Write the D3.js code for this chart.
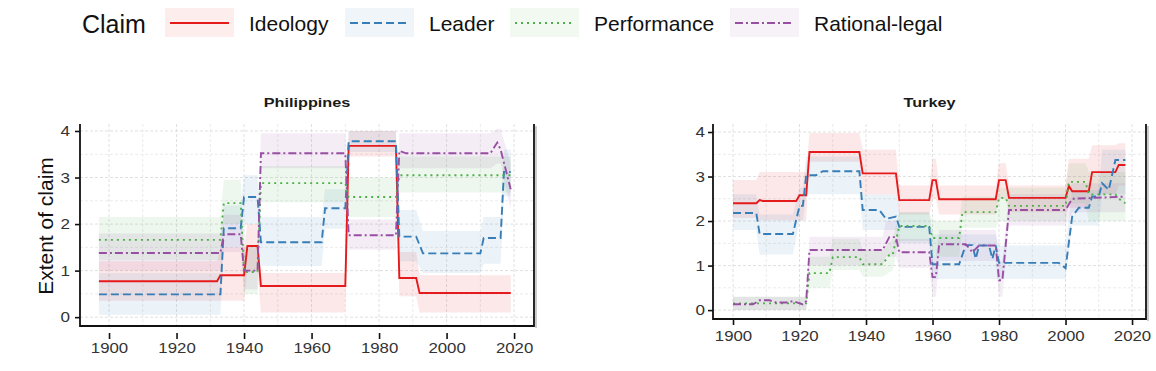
<!DOCTYPE html>
<html>
<head>
<meta charset="utf-8">
<script src="https://cdn.jsdelivr.net/npm/d3@7"></script>
<style>
body { margin: 0; background: #fff; }
text { font-family: "Liberation Sans", Arial, sans-serif; }
</style>
</head>
<body>
<div id="chart"></div>
<script>
// claims + styles
var claims = ["Ideology", "Leader", "Performance", "Rational-legal"];
var colors = ["#e41a1c", "#377eb8", "#4daf4a", "#984ea3"];
var dashes = [null, "8,4", "2,4", "8,3,2,3"];

var xTicks = [1900, 1920, 1940, 1960, 1980, 2000, 2020];
var yTicks = [0, 1, 2, 3, 4];

// Philippines: [year, value] and bands [year, lo, hi]
var phIdeology = [[1897,0.77],[1932,0.77],[1933,0.9],[1940,0.9],[1941,1.53],[1944,1.53],[1945,0.67],[1970,0.67],[1971,3.68],[1985,3.68],[1986,0.84],[1991,0.84],[1992,0.52],[2019,0.52]];
var phLeader = [[1897,0.49],[1933,0.49],[1934,1.91],[1939,1.91],[1940,2.58],[1944,2.58],[1945,1.61],[1963,1.61],[1964,2.34],[1970,2.34],[1971,3.78],[1985,3.78],[1986,1.73],[1991,1.73],[1993,1.37],[2010,1.37],[2011,1.7],[2016,1.7],[2017,3.12],[2019,3.12]];
var phPerformance = [[1897,1.66],[1933,1.66],[1934,2.45],[1939,2.45],[1940,0.97],[1944,0.97],[1945,2.88],[1970,2.88],[1971,2.58],[1985,2.58],[1986,3.05],[2019,3.05]];
var phRational = [[1897,1.38],[1933,1.38],[1934,1.78],[1939,1.78],[1940,1.0],[1944,1.0],[1945,3.52],[1970,3.52],[1971,1.76],[1985,1.76],[1986,3.57],[1988,3.52],[2013,3.52],[2015,3.75],[2016,3.6],[2019,2.75]];

var phIdeologyBand = [[1897,0.35,1.2],[1932,0.35,1.2],[1933,0.35,1.5],[1940,0.35,1.5],[1941,1.0,2.0],[1944,1.0,2.0],[1945,0.1,0.95],[1970,0.1,0.95],[1971,3.45,4.0],[1985,3.45,4.0],[1986,0.45,1.4],[1991,0.45,1.4],[1992,0.1,0.9],[2019,0.1,0.9]];
var phLeaderBand = [[1897,0.05,0.95],[1933,0.05,0.95],[1934,1.5,2.4],[1939,1.5,2.4],[1940,2.0,3.05],[1944,2.0,3.05],[1945,1.1,2.15],[1963,1.1,2.15],[1964,1.9,2.75],[1970,1.9,2.75],[1971,3.55,4.0],[1985,3.55,4.0],[1986,1.2,2.3],[1991,1.2,2.3],[1993,0.95,1.85],[2010,0.95,1.85],[2011,1.15,2.15],[2016,1.15,2.15],[2017,2.6,3.6],[2019,2.6,3.6]];
var phPerformanceBand = [[1897,1.22,2.15],[1933,1.22,2.15],[1934,2.0,2.95],[1939,2.0,2.95],[1940,0.5,1.5],[1944,0.5,1.5],[1945,2.47,3.25],[1970,2.47,3.25],[1971,2.15,3.0],[1985,2.15,3.0],[1986,2.68,3.45],[2019,2.68,3.45]];
var phRationalBand = [[1897,1.0,1.8],[1933,1.0,1.8],[1934,1.4,2.2],[1939,1.4,2.2],[1940,0.6,1.5],[1944,0.6,1.5],[1945,3.2,3.95],[1970,3.2,3.95],[1971,1.45,2.1],[1985,1.45,2.1],[1986,3.2,3.95],[2013,3.2,3.95],[2015,3.3,4.05],[2016,3.3,4.05],[2019,2.3,3.3]];

// Turkey
var trIdeology = [[1900,2.40],[1907,2.40],[1908,2.47],[1909,2.45],[1919,2.45],[1920,2.58],[1922,2.58],[1923,3.55],[1938,3.55],[1939,3.07],[1949,3.07],[1950,2.47],[1959,2.47],[1960,2.92],[1961,2.92],[1962,2.49],[1979,2.49],[1980,2.92],[1982,2.92],[1983,2.52],[2000,2.52],[2001,2.79],[2002,2.67],[2007,2.67],[2008,3.1],[2015,3.1],[2016,3.26],[2018,3.26]];
var trLeader = [[1900,2.18],[1907,2.18],[1908,1.71],[1918,1.71],[1920,2.34],[1921,2.34],[1922,3.03],[1925,3.03],[1927,3.12],[1938,3.12],[1939,2.25],[1944,2.25],[1946,2.05],[1949,2.1],[1950,1.87],[1959,1.87],[1960,1.03],[1968,1.03],[1970,1.46],[1972,1.46],[1973,1.15],[1974,1.45],[1977,1.45],[1978,1.15],[1979,1.45],[1980,1.06],[1998,1.06],[2000,0.94],[2002,2.1],[2004,2.3],[2007,2.3],[2008,2.55],[2010,2.55],[2011,2.85],[2013,2.7],[2015,3.37],[2018,3.37]];
var trPerformance = [[1900,0.15],[1922,0.15],[1923,0.83],[1929,0.83],[1930,1.19],[1938,1.19],[1939,1.03],[1945,1.03],[1947,1.24],[1948,1.24],[1950,1.89],[1959,1.89],[1960,1.62],[1968,1.62],[1969,2.2],[1979,2.2],[1980,2.52],[1982,2.52],[1983,2.34],[2000,2.34],[2001,2.88],[2006,2.88],[2007,2.6],[2015,2.6],[2016,2.5],[2018,2.4]];
var trRational = [[1900,0.13],[1906,0.13],[1908,0.22],[1911,0.22],[1913,0.17],[1916,0.17],[1918,0.2],[1921,0.13],[1922,0.2],[1923,1.35],[1945,1.35],[1947,1.64],[1949,1.64],[1950,1.3],[1959,1.3],[1960,0.74],[1961,0.74],[1962,1.48],[1970,1.48],[1972,1.3],[1974,1.45],[1979,1.45],[1980,0.67],[1981,0.67],[1983,2.25],[2000,2.25],[2002,2.5],[2018,2.55]];

var trIdeologyBand = [[1900,2.07,2.92],[1907,2.07,2.92],[1908,2.02,3.1],[1922,2.02,3.1],[1923,3.33,3.98],[1938,3.33,3.98],[1939,2.6,3.6],[1949,2.6,3.6],[1950,2.15,2.8],[1959,2.15,2.8],[1960,2.5,3.4],[1961,2.5,3.4],[1962,2.15,2.8],[1979,2.15,2.8],[1980,2.5,3.3],[1982,2.5,3.3],[1983,2.2,2.8],[2000,2.2,2.8],[2001,2.3,3.4],[2007,2.3,3.4],[2008,2.6,3.7],[2015,2.6,3.7],[2016,2.8,3.75],[2018,2.8,3.75]];
var trLeaderBand = [[1900,1.8,2.6],[1907,1.8,2.6],[1908,1.25,2.15],[1918,1.25,2.15],[1920,2.0,2.75],[1921,2.0,2.75],[1922,2.6,3.45],[1938,2.6,3.45],[1939,1.8,2.6],[1949,1.8,2.6],[1950,1.5,2.2],[1959,1.5,2.2],[1960,0.7,1.7],[1979,0.7,1.7],[1980,0.7,1.45],[2000,0.7,1.45],[2002,1.9,2.7],[2010,1.9,2.7],[2011,2.6,3.6],[2018,2.6,3.6]];
var trPerformanceBand = [[1900,0.0,0.3],[1922,0.0,0.3],[1923,0.5,1.2],[1929,0.5,1.2],[1930,0.9,1.6],[1938,0.9,1.6],[1939,0.75,1.35],[1945,0.75,1.35],[1948,0.9,1.6],[1950,1.55,2.2],[1959,1.55,2.2],[1960,1.2,2.0],[1968,1.2,2.0],[1969,1.85,2.55],[1979,1.85,2.55],[1980,2.0,2.75],[2000,2.0,2.75],[2001,2.4,3.3],[2006,2.4,3.3],[2007,2.0,3.1],[2018,2.0,3.1]];
var trRationalBand = [[1900,0.0,0.3],[1922,0.0,0.3],[1923,1.0,1.65],[1945,1.0,1.65],[1946,1.2,2.0],[1949,1.2,2.0],[1950,0.95,1.6],[1959,0.95,1.6],[1960,0.3,1.2],[1961,0.3,1.2],[1962,1.1,1.8],[1979,1.1,1.8],[1980,0.3,1.1],[1981,0.3,1.1],[1983,1.9,2.6],[2000,1.9,2.6],[2002,2.2,2.85],[2018,2.2,2.85]];

var width = 1156, height = 371;

var svg = d3.select("#chart").append("svg")
    .attr("width", width)
    .attr("height", height);

drawLegend();

drawPanel({
    title: "Philippines",
    left: 80, right: 534, top: 124, bottom: 326,
    xDomain: [1891.4, 2025.9], yDomain: [-0.19, 4.15],
    xAxisY: 333, xPad: 4, yLabelX: 10,
    lines: [phIdeology, phLeader, phPerformance, phRational],
    bands: [phIdeologyBand, phLeaderBand, phPerformanceBand, phRationalBand]
});

drawPanel({
    title: "Turkey",
    left: 713, right: 1146, top: 124, bottom: 319,
    xDomain: [1893.98, 2024.2], yDomain: [-0.2, 4.18],
    xAxisY: 319, xPad: 6, yLabelX: 8,
    lines: [trIdeology, trLeader, trPerformance, trRational],
    bands: [trIdeologyBand, trLeaderBand, trPerformanceBand, trRationalBand]
});

// y axis title
svg.append("text")
    .attr("transform", "translate(53,226) rotate(-90)")
    .attr("text-anchor", "middle")
    .attr("font-size", 21)
    .attr("fill", "#111")
    .text("Extent of claim");

function drawLegend() {
    var keyX = [165, 345, 510, 730];
    var g = svg.append("g");

    g.append("text")
        .attr("x", 82).attr("y", 33)
        .attr("font-size", 25)
        .attr("fill", "#111")
        .text("Claim");

    claims.forEach(function (c, i) {
        g.append("rect")
            .attr("x", keyX[i]).attr("y", 8)
            .attr("width", 69).attr("height", 29)
            .attr("fill", colors[i])
            .attr("fill-opacity", 0.08);
        g.append("line")
            .attr("x1", keyX[i] + 5).attr("x2", keyX[i] + 64)
            .attr("y1", 23).attr("y2", 23)
            .attr("stroke", colors[i])
            .attr("stroke-width", 2)
            .attr("stroke-dasharray", dashes[i]);
        g.append("text")
            .attr("x", keyX[i] + 84).attr("y", 31)
            .attr("font-size", 21)
            .attr("fill", "#111")
            .text(c);
    });
}

function drawPanel(p) {
    var x = d3.scaleLinear().domain(p.xDomain).range([p.left, p.right]);
    var y = d3.scaleLinear().domain(p.yDomain).range([p.bottom, p.top]);
    var g = svg.append("g");

    // grid (major + minor)
    var gx = d3.range(1900, 2021, 10);
    var gy = d3.range(0, 4.01, 0.5);
    g.selectAll(".vgrid").data(gx).enter().append("line")
        .attr("x1", function (d) { return x(d); })
        .attr("x2", function (d) { return x(d); })
        .attr("y1", p.top).attr("y2", p.bottom)
        .attr("stroke", function (d) { return d % 20 === 0 ? "#e0e0e0" : "#ebebeb"; })
        .attr("stroke-dasharray", "3,2");
    g.selectAll(".hgrid").data(gy).enter().append("line")
        .attr("x1", p.left).attr("x2", p.right)
        .attr("y1", function (d) { return y(d); })
        .attr("y2", function (d) { return y(d); })
        .attr("stroke", function (d) { return d % 1 === 0 ? "#e0e0e0" : "#ebebeb"; })
        .attr("stroke-dasharray", "3,2");

    // ribbons
    var area = d3.area()
        .x(function (d) { return x(d[0]); })
        .y0(function (d) { return y(d[1]); })
        .y1(function (d) { return y(d[2]); });
    p.bands.forEach(function (b, i) {
        g.append("path").datum(b)
            .attr("d", area)
            .attr("fill", colors[i])
            .attr("fill-opacity", 0.1);
    });

    // lines
    var line = d3.line()
        .x(function (d) { return x(d[0]); })
        .y(function (d) { return y(d[1]); });
    p.lines.forEach(function (l, i) {
        g.append("path").datum(l)
            .attr("d", line)
            .attr("fill", "none")
            .attr("stroke", colors[i])
            .attr("stroke-width", 1.9)
            .attr("stroke-dasharray", dashes[i]);
    });

    // axis lines: left, bottom, right
    g.append("path")
        .attr("d", "M" + p.left + "," + p.top + "V" + p.bottom + "H" + p.right + "V" + p.top)
        .attr("fill", "none")
        .attr("stroke", "#111")
        .attr("stroke-width", 1.8);
    g.append("line")
        .attr("x1", p.right + 2).attr("x2", p.right + 2)
        .attr("y1", p.top + 2).attr("y2", p.bottom + 2)
        .attr("stroke", "#aaa").attr("stroke-width", 1.2);

    var yAxis = g.append("g")
        .attr("transform", "translate(" + p.left + ",0)")
        .call(d3.axisLeft(y).tickValues(yTicks).tickSize(5).tickSizeOuter(0).tickFormat(d3.format("d")));
    var xAxis = g.append("g")
        .attr("transform", "translate(0," + p.xAxisY + ")")
        .call(d3.axisBottom(x).tickValues(xTicks).tickSize(6).tickSizeOuter(0).tickPadding(p.xPad).tickFormat(d3.format("d")));

    [yAxis, xAxis].forEach(function (a) {
        a.select(".domain").remove();
        a.selectAll("line").attr("stroke", "#111").attr("stroke-width", 1.6);
        a.selectAll("text")
            .attr("font-size", 14)
            .attr("fill", "#333")
            .attr("font-family", "'Liberation Sans', Arial, sans-serif");
    });
    yAxis.selectAll("text")
        .attr("x", -p.yLabelX / 1.22)
        .attr("transform", "scale(1.22,1)");
    xAxis.selectAll("text")
        .attr("transform", "scale(1.2,1)");

    // panel title
    g.append("text")
        .attr("transform", "translate(" + ((p.left + p.right) / 2) + ",107) scale(1.25,1)")
        .attr("text-anchor", "middle")
        .attr("font-size", 13)
        .attr("font-weight", "bold")
        .attr("fill", "#1a1a1a")
        .text(p.title);
}
</script>
</body>
</html>
